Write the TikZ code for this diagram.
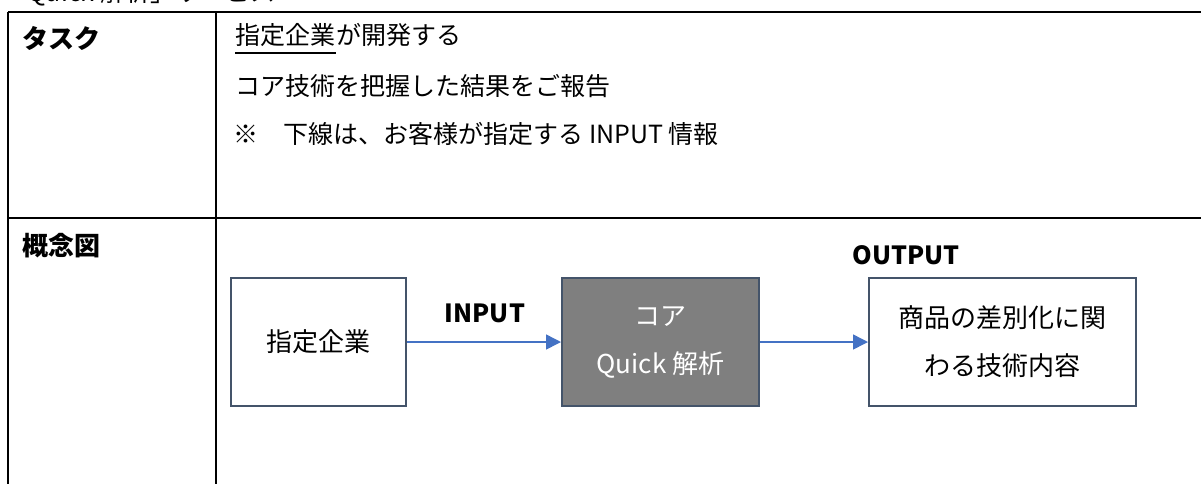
\documentclass[tikz,border=0pt]{standalone}
\usepackage{fontspec}
\setmainfont{Noto Sans CJK JP}
\usetikzlibrary{arrows.meta}
\definecolor{boxborder}{HTML}{44546A}
\definecolor{boxfill}{HTML}{7F7F7F}
\definecolor{arrowblue}{HTML}{4472C4}
\tikzset{
  tableline/.style={line width=1.25pt, black},
  headlabel/.style={anchor=west, inner sep=0pt, font=\fontsize{13}{16}\selectfont\bfseries},
  bodytext/.style={anchor=west, inner sep=0pt, font=\fontsize{12.5}{15}\selectfont},
  underl/.style={line width=1pt, black},
  flowbox/.style={draw=boxborder, line width=1pt, fill=white, inner sep=0pt,
    minimum height=64pt, align=center, font=\fontsize{13}{24}\selectfont},
  darkbox/.style={flowbox, fill=boxfill, text=white},
  flowlabel/.style={inner sep=0pt, font=\fontsize{12.5}{15}\selectfont\bfseries},
  flowarrow/.style={draw=arrowblue, line width=0.75pt,
    -{Triangle[length=7.5pt,width=7.5pt,fill=arrowblue]}},
}
\begin{document}
\begin{tikzpicture}[x=0.5pt,y=-0.5pt]
\useasboundingbox (0,0) rectangle (1201,484);
\clip (0,0) rectangle (1201,484);
% clipped heading above the table
\node[anchor=base west, inner sep=0pt, font=\fontsize{12.5}{15}\selectfont] (heading) at (2,1) {「Quick 解析」サービス};
% table rules
\draw[tableline] (8,12) -- (1201,12);
\draw[tableline] (8,218) -- (1201,218);
\draw[tableline] (8,12) -- (8,484);
\draw[tableline] (216,12) -- (216,484);
% left column
\node[headlabel] (task) at (22,38) {タスク};
\node[headlabel] (concept) at (22,246) {概念図};
% right column texts
\node[bodytext] (ul) at (235,35) {指定企業};
\node[bodytext] (line1) at (ul.east) {が開発する};
\draw[underl] ([yshift=-2.75pt]ul.south west) -- ([yshift=-2.75pt]ul.south east);
\node[bodytext] (line2) at (235,86) {コア技術を把握した結果をご報告};
\node[bodytext] (line3) at (233,134) {※　下線は、お客様が指定する INPUT 情報};
% flow diagram
\node[flowbox, minimum width=87.5pt] (company) at (318.5,342) {指定企業};
\node[darkbox, minimum width=98.5pt] (core) at (660.5,342) {コア\\Quick 解析};
\node[flowbox, minimum width=133.5pt] (result) at (1002.5,342) {商品の差別化に関\\わる技術内容};
\node[flowlabel] (input) at (485,313) {INPUT};
\node[flowlabel] (output) at (906,255) {OUTPUT};
\draw[flowarrow] (company.east) -- (core.west);
\draw[flowarrow] (core.east) -- (result.west);
\end{tikzpicture}
\end{document}
